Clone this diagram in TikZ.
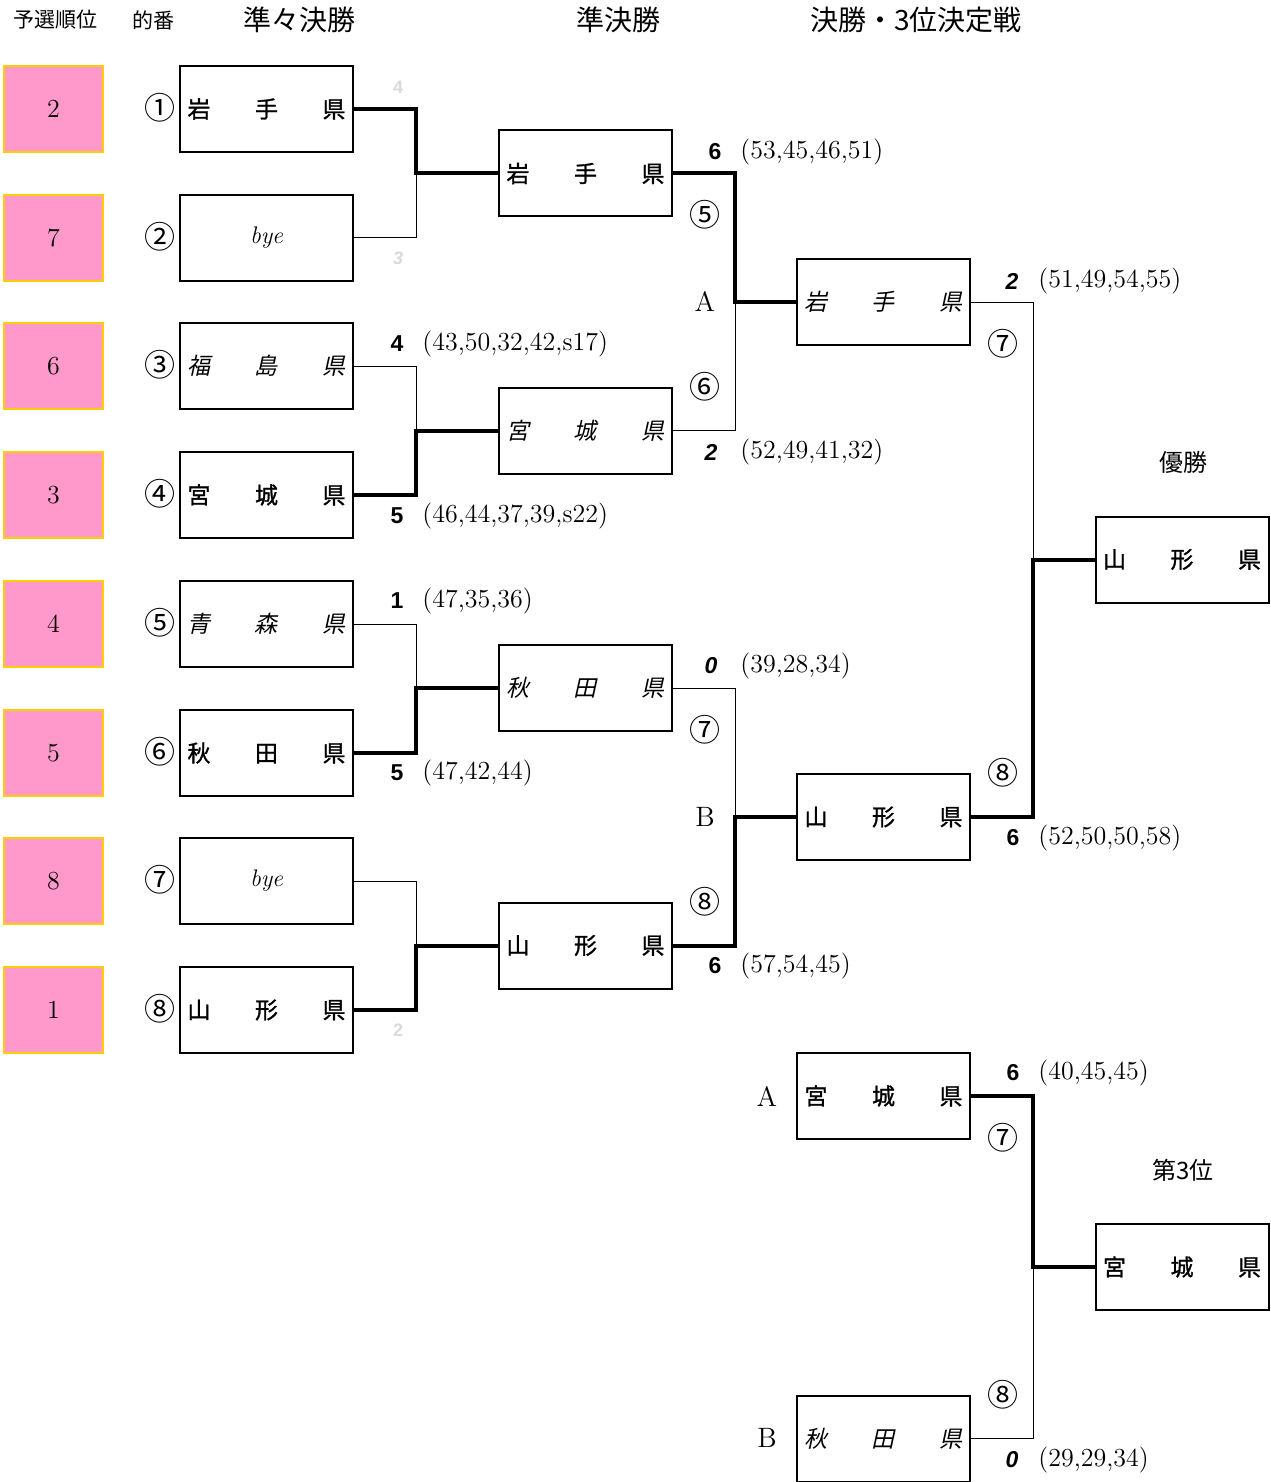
\documentclass[tikz,border=0pt]{standalone}
\usepackage{fontspec}
\newfontfamily\jpfont{Noto Sans CJK JP}
\newfontfamily\jpbold[FakeBold=1.2]{Noto Sans CJK JP}
\newfontfamily\jpslant[FakeSlant=0.22]{Noto Sans CJK JP}
\newfontfamily\scorefont{Liberation Sans}
\definecolor{rankpink}{HTML}{FF99CC}
\definecolor{rankgold}{HTML}{FFCC00}
\newcommand{\ken}[3]{\makebox[79pt]{#1\hfill#2\hfill#3}}

\begin{document}
\begin{tikzpicture}[x=0.5pt, y=-0.5pt,
  rank/.style={fill=rankpink, draw=rankgold, line width=1pt, minimum width=49.5pt,
               minimum height=43pt, inner sep=0pt, font=\fontsize{13}{13}\selectfont},
  team/.style={draw, line width=1pt, minimum width=86.5pt, minimum height=43pt, inner sep=0pt},
  win/.style={team, font=\jpbold\fontsize{11.5}{12}\selectfont},
  lose/.style={team, font=\jpslant\fontsize{11.5}{12}\selectfont},
  byebox/.style={team, font=\itshape\fontsize{12}{12}\selectfont},
  wline/.style={line width=2pt},
  lline/.style={line width=0.5pt},
  head/.style={font=\jpfont\fontsize{14}{14}\selectfont},
  subhead/.style={font=\jpfont\fontsize{10.5}{11}\selectfont},
  circ/.style={font=\jpfont\fontsize{15.5}{16}\selectfont},
  pts/.style={font=\scorefont\bfseries\fontsize{11.5}{12}\selectfont},
  lpts/.style={font=\scorefont\bfseries\itshape\fontsize{11.5}{12}\selectfont},
  detail/.style={anchor=west, inner sep=0pt, font=\fontsize{13}{13}\selectfont},
  ghost/.style={text=black!15, font=\scorefont\bfseries\fontsize{9}{9}\selectfont}
]
  \useasboundingbox (0,0) rectangle (1270,1482);

  % --- titres ---
  \node[subhead] (hrank) at (55,20)  {予選順位};
  \node[subhead] (hlot)  at (153,20) {的番};
  \node[head]    (hqf)   at (299,20) {準々決勝};
  \node[head]    (hsf)   at (618,20) {準決勝};
  \node[head]    (hf)    at (916,20) {決勝・3位決定戦};

  % ---予選順位 ---
  \node[rank] (r1) at (53.5,109)  {2};
  \node[rank] (r2) at (53.5,238)  {7};
  \node[rank] (r3) at (53.5,366)  {6};
  \node[rank] (r4) at (53.5,495)  {3};
  \node[rank] (r5) at (53.5,624)  {4};
  \node[rank] (r6) at (53.5,753)  {5};
  \node[rank] (r7) at (53.5,881)  {8};
  \node[rank] (r8) at (53.5,1010) {1};

  % --- 的番 ---
  \node[circ] (c1) at (160,108)  {①};
  \node[circ] (c2) at (160,237)  {②};
  \node[circ] (c3) at (160,365)  {③};
  \node[circ] (c4) at (160,494)  {④};
  \node[circ] (c5) at (160,623)  {⑤};
  \node[circ] (c6) at (160,752)  {⑥};
  \node[circ] (c7) at (160,880)  {⑦};
  \node[circ] (c8) at (160,1009) {⑧};

  % --- 準々決勝 ---
  \node[win]    (q1) at (266.5,109)  {\ken{岩}{手}{県}};
  \node[byebox] (q2) at (266.5,238)  {bye};
  \node[lose]   (q3) at (266.5,366)  {\ken{福}{島}{県}};
  \node[win]    (q4) at (266.5,495)  {\ken{宮}{城}{県}};
  \node[lose]   (q5) at (266.5,624)  {\ken{青}{森}{県}};
  \node[win]    (q6) at (266.5,753)  {\ken{秋}{田}{県}};
  \node[byebox] (q7) at (266.5,881)  {bye};
  \node[win]    (q8) at (266.5,1010) {\ken{山}{形}{県}};

  \coordinate (j1) at (416,173.5);
  \coordinate (j2) at (416,430.5);
  \coordinate (j3) at (416,688);
  \coordinate (j4) at (416,945.5);

  % --- 準決勝 ---
  \node[win]  (s1) at (585.5,173.5) {\ken{岩}{手}{県}};
  \node[lose] (s2) at (585.5,430.5) {\ken{宮}{城}{県}};
  \node[lose] (s3) at (585.5,688)   {\ken{秋}{田}{県}};
  \node[win]  (s4) at (585.5,945.5) {\ken{山}{形}{県}};

  \draw[wline] (q1.east) -| (j1) -- (s1.west);
  \draw[lline] (q2.east) -| (j1);
  \draw[lline] (q3.east) -| (j2);
  \draw[wline] (q4.east) -| (j2) -- (s2.west);
  \draw[lline] (q5.east) -| (j3);
  \draw[wline] (q6.east) -| (j3) -- (s3.west);
  \draw[lline] (q7.east) -| (j4);
  \draw[wline] (q8.east) -| (j4) -- (s4.west);

  \node[ghost] (g1) at (398,87)   {4};
  \node[ghost, font=\scorefont\bfseries\itshape\fontsize{9}{9}\selectfont] (g2) at (398,258) {3};
  \node[pts]   (p3) at (397,344)  {4};
  \node[detail] (d3) at (422,344) {(43,50,32,42,s17)};
  \node[pts]   (p4) at (397,516)  {5};
  \node[detail] (d4) at (422,516) {(46,44,37,39,s22)};
  \node[pts]   (p5) at (397,601)  {1};
  \node[detail] (d5) at (422,601) {(47,35,36)};
  \node[pts]   (p6) at (397,773)  {5};
  \node[detail] (d6) at (422,773) {(47,42,44)};
  \node[ghost] (g8) at (398,1030) {2};

  % --- 決勝 ---
  \coordinate (ja) at (735,302);
  \coordinate (jb) at (735,817);
  \node[lose] (f1) at (883.5,302) {\ken{岩}{手}{県}};
  \node[win]  (f2) at (883.5,817) {\ken{山}{形}{県}};

  \draw[wline] (s1.east) -| (ja) -- (f1.west);
  \draw[lline] (s2.east) -| (ja);
  \draw[lline] (s3.east) -| (jb);
  \draw[wline] (s4.east) -| (jb) -- (f2.west);

  \node[pts]   (ps1) at (715,152) {6};
  \node[detail] (ds1) at (740,152) {(53,45,46,51)};
  \node[circ]  (cs1) at (705,215) {⑤};
  \node[font=\fontsize{14}{14}\selectfont] (la) at (705,302) {A};
  \node[circ]  (cs2) at (705,387) {⑥};
  \node[lpts]  (ps2) at (711,452) {2};
  \node[detail] (ds2) at (740,452) {(52,49,41,32)};
  \node[lpts]  (ps3) at (711,666) {0};
  \node[detail] (ds3) at (740,666) {(39,28,34)};
  \node[circ]  (cs3) at (705,730) {⑦};
  \node[font=\fontsize{14}{14}\selectfont] (lb) at (705,817) {B};
  \node[circ]  (cs4) at (705,902) {⑧};
  \node[pts]   (ps4) at (715,966) {6};
  \node[detail] (ds4) at (740,966) {(57,54,45)};

  % --- 優勝 ---
  \coordinate (jw) at (1033,559.5);
  \node[font=\jpfont\fontsize{12}{12}\selectfont] (hwin) at (1183,462) {優勝};
  \node[win] (champ) at (1182,559.5) {\ken{山}{形}{県}};
  \draw[lline] (f1.east) -| (jw);
  \draw[wline] (f2.east) -| (jw) -- (champ.west);

  \node[lpts]  (pf1) at (1012,281) {2};
  \node[detail] (df1) at (1038,281) {(51,49,54,55)};
  \node[circ]  (cf1) at (1003,344) {⑦};
  \node[circ]  (cf2) at (1003,773) {⑧};
  \node[pts]   (pf2) at (1013,838) {6};
  \node[detail] (df2) at (1038,838) {(52,50,50,58)};

  % --- 3位決定戦 ---
  \coordinate (jt) at (1033,1267);
  \node[win]  (t1) at (883.5,1096)   {\ken{宮}{城}{県}};
  \node[lose] (t2) at (883.5,1438.5) {\ken{秋}{田}{県}};
  \node[font=\fontsize{14}{14}\selectfont] (lta) at (767,1096) {A};
  \node[font=\fontsize{14}{14}\selectfont] (ltb) at (767,1438) {B};
  \node[font=\jpfont\fontsize{12}{12}\selectfont] (hthird) at (1183,1170) {第3位};
  \node[win] (third) at (1182,1267) {\ken{宮}{城}{県}};
  \draw[wline] (t1.east) -| (jt) -- (third.west);
  \draw[lline] (t2.east) -| (jt);

  \node[pts]   (pt1) at (1013,1073) {6};
  \node[detail] (dt1) at (1038,1073) {(40,45,45)};
  \node[circ]  (ct1) at (1003,1138) {⑦};
  \node[circ]  (ct2) at (1003,1395) {⑧};
  \node[lpts]  (pt2) at (1012,1460) {0};
  \node[detail] (dt2) at (1038,1460) {(29,29,34)};
\end{tikzpicture}
\end{document}
